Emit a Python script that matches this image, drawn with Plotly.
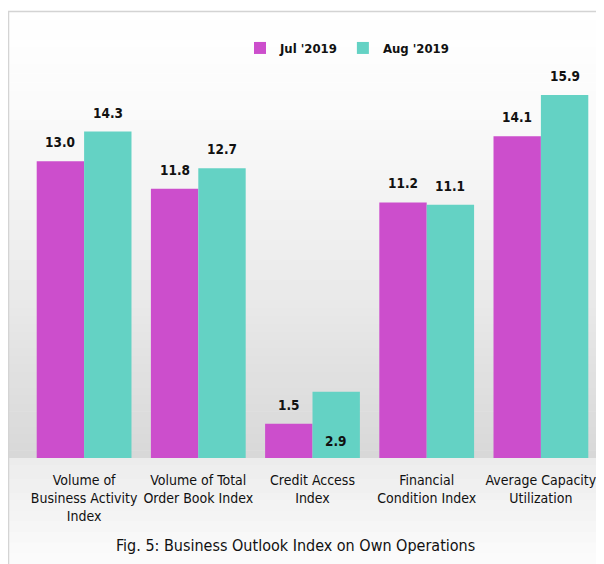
import plotly.graph_objects as go

# ---------------- data ----------------
categories = [
    "Volume of<br>Business Activity<br>Index",
    "Volume of Total<br>Order Book Index",
    "Credit Access<br>Index",
    "Financial<br>Condition Index",
    "Average Capacity<br>Utilization",
]
jul_2019 = [13.0, 11.8, 1.5, 11.2, 14.1]
aug_2019 = [14.3, 12.7, 2.9, 11.1, 15.9]

JUL_COLOR = "#CC4ECC"
AUG_COLOR = "#64D2C4"
FONT = "DejaVu Sans Condensed, sans-serif"

# the page puts the figure 8px in from the top-left corner
W, H = 596, 556
M_L, M_R, M_T, M_B = 19, 6, 62, 106
BARGAP = 0.17

fig = go.Figure()
fig.add_trace(go.Bar(x=categories, y=jul_2019, name="<b>Jul '2019</b>",
                     marker=dict(color=JUL_COLOR, line=dict(width=0))))
fig.add_trace(go.Bar(x=categories, y=aug_2019, name="<b>Aug '2019</b>",
                     marker=dict(color=AUG_COLOR, line=dict(width=0))))

# value labels above bars (2.9 sits inside its bar, near the bottom)
pw = W - M_L - M_R
half_bar = pw / len(categories) * (1 - BARGAP) / 4
annots = []
for series, dx in ((jul_2019, -half_bar), (aug_2019, half_bar)):
    for cat, v in zip(categories, series):
        inside = v == 2.9 and series is aug_2019
        annots.append(dict(
            x=cat, y=0 if inside else v, xref="x", yref="y",
            text=f"<b>{v:.1f}</b>", showarrow=False,
            xshift=dx, yshift=17 if inside else 19,
            xanchor="center", yanchor="middle",
            font=dict(size=13.5, color="#111111", family=FONT),
        ))

# ------------- background gradient (approximation) -------------
ph = H - M_T - M_B
def py(pix):
    # page pixel row -> paper y
    return (H - M_B - (pix - 8)) / ph

def px_(pix):
    return (pix - 8 - M_L) / pw

stops = [(11, 255), (100, 251), (200, 243), (300, 233), (380, 224), (458, 216)]
stops2 = [(458, 236), (500, 242), (564, 252)]

def bands(st, n):
    out = []
    for i in range(len(st) - 1):
        (y0, g0), (y1, g1) = st[i], st[i + 1]
        for k in range(n):
            a0 = y0 + (y1 - y0) * k / n
            a1 = y0 + (y1 - y0) * (k + 1) / n
            g = int(round(g0 + (g1 - g0) * (k + 0.5) / n))
            out.append((a0, a1, g))
    return out

for a0, a1, g in bands(stops, 10) + bands(stops2, 6):
    fig.add_shape(type="rect", xref="paper", yref="paper",
                  x0=px_(9), x1=px_(620), y0=py(a1 + 0.5), y1=py(a0),
                  fillcolor=f"rgb({g},{g},{g})", line=dict(width=0),
                  layer="below")

# border
fig.add_shape(type="rect", xref="paper", yref="paper",
              x0=px_(8.5), x1=px_(640), y0=py(640), y1=py(11.5),
              line=dict(color="#d4d4d4", width=1.5), layer="below")

annots.append(dict(
    text="Fig. 5: Business Outlook Index on Own Operations",
    xref="paper", yref="paper", x=px_(295), y=py(545),
    xanchor="center", yanchor="middle", showarrow=False,
    font=dict(size=16, color="#111111", family=FONT),
))

fig.update_layout(
    width=W, height=H,
    margin=dict(l=M_L, r=M_R, t=M_T, b=M_B, autoexpand=False),
    paper_bgcolor="white",
    plot_bgcolor="rgba(0,0,0,0)",
    barmode="group", bargap=BARGAP, bargroupgap=0,
    font=dict(family=FONT, color="#111111"),
    showlegend=True,
    legend=dict(orientation="h", x=px_(347), xanchor="center", y=py(48), yanchor="middle",
                font=dict(size=13, color="#111111", family=FONT),
                bgcolor="rgba(0,0,0,0)", itemwidth=30, tracegroupgap=0),
    annotations=annots,
)
fig.update_xaxes(showgrid=False, showline=False, ticks="", tickangle=0,
                 automargin=False,
                 tickfont=dict(size=14, color="#111111", family=FONT),
                 ticklabelstandoff=12)
fig.update_yaxes(range=[0, 17], visible=False, showgrid=False, zeroline=False,
                 automargin=False)

fig.write_html("out.html")
